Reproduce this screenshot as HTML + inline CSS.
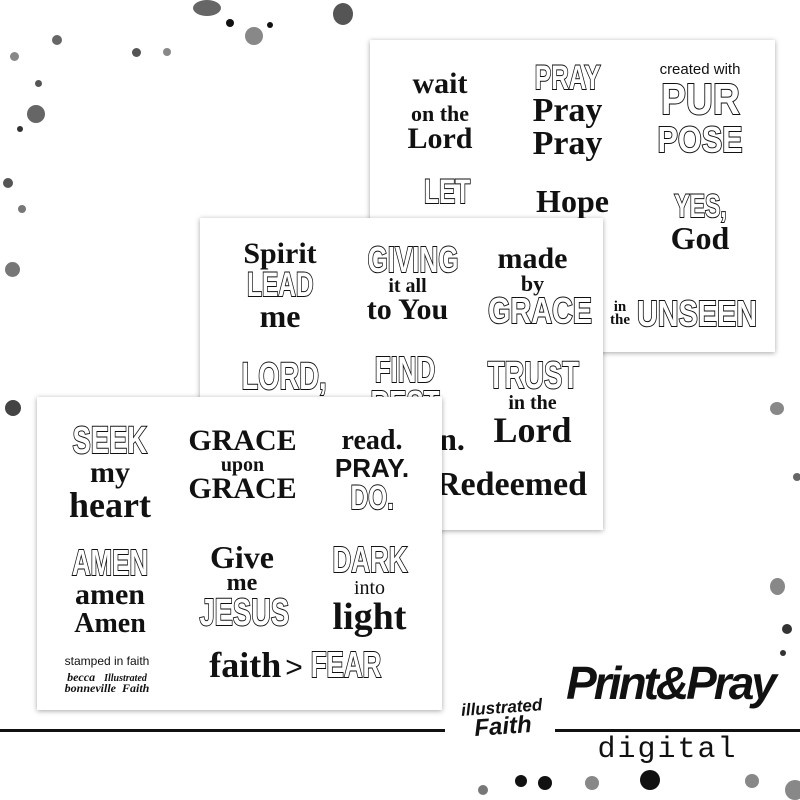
<!DOCTYPE html>
<html><head><meta charset="utf-8"><style>
*{margin:0;padding:0;box-sizing:border-box}
body{width:800px;height:800px;background:#fff;position:relative;overflow:hidden;font-family:"Liberation Serif",serif;color:#111}
.card{position:absolute;background:#fff;box-shadow:0 1px 5px rgba(0,0,0,.35);overflow:hidden}
.t{position:absolute;text-align:center;line-height:1;white-space:nowrap}
.s{font-family:"Liberation Serif",serif;font-weight:bold}
.o{font-family:"Liberation Sans",sans-serif;color:#fff;-webkit-text-stroke:2px #111;paint-order:stroke fill;font-weight:bold;display:inline-block;transform:scaleX(.72)}
.b{font-family:"Liberation Sans",sans-serif;font-weight:bold}
.d{position:absolute;border-radius:50%;background:#555}
</style></head><body>

<!-- splatters -->
<div class="d" style="left:193px;top:0;width:28px;height:16px;background:#666"></div>
<div class="d" style="left:333px;top:3px;width:20px;height:22px;background:#555"></div>
<div class="d" style="left:245px;top:27px;width:18px;height:18px;background:#888"></div>
<div class="d" style="left:226px;top:19px;width:8px;height:8px;background:#111"></div>
<div class="d" style="left:267px;top:22px;width:6px;height:6px;background:#111"></div>
<div class="d" style="left:27px;top:105px;width:18px;height:18px;background:#666"></div>
<div class="d" style="left:52px;top:35px;width:10px;height:10px;background:#666"></div>
<div class="d" style="left:132px;top:48px;width:9px;height:9px;background:#555"></div>
<div class="d" style="left:163px;top:48px;width:8px;height:8px;background:#888"></div>
<div class="d" style="left:10px;top:52px;width:9px;height:9px;background:#888"></div>
<div class="d" style="left:35px;top:80px;width:7px;height:7px;background:#555"></div>
<div class="d" style="left:3px;top:178px;width:10px;height:10px;background:#555"></div>
<div class="d" style="left:17px;top:126px;width:6px;height:6px;background:#333"></div>
<div class="d" style="left:5px;top:262px;width:15px;height:15px;background:#777"></div>
<div class="d" style="left:5px;top:400px;width:16px;height:16px;background:#444"></div>
<div class="d" style="left:18px;top:205px;width:8px;height:8px;background:#777"></div>
<div class="d" style="left:770px;top:402px;width:14px;height:13px;background:#888"></div>
<div class="d" style="left:793px;top:473px;width:8px;height:8px;background:#666"></div>
<div class="d" style="left:770px;top:578px;width:15px;height:17px;background:#888"></div>
<div class="d" style="left:782px;top:624px;width:10px;height:10px;background:#333"></div>
<div class="d" style="left:780px;top:650px;width:6px;height:6px;background:#333"></div>
<div class="d" style="left:515px;top:775px;width:12px;height:12px;background:#111"></div>
<div class="d" style="left:538px;top:776px;width:14px;height:14px;background:#111"></div>
<div class="d" style="left:585px;top:776px;width:14px;height:14px;background:#888"></div>
<div class="d" style="left:640px;top:770px;width:20px;height:20px;background:#111"></div>
<div class="d" style="left:745px;top:774px;width:14px;height:14px;background:#888"></div>
<div class="d" style="left:785px;top:780px;width:20px;height:20px;background:#888"></div>
<div class="d" style="left:478px;top:785px;width:10px;height:10px;background:#777"></div>

<!-- card 3 -->
<div class="card" style="left:370px;top:40px;width:405px;height:312px">
 <div class="t s" style="left:20px;top:30px;width:100px;font-size:30px;line-height:.92">wait<br><span style="font-size:22px">on the</span><br>Lord</div>
 <div class="t" style="left:140px;top:22px;width:115px;font-size:34px;line-height:.95"><span class="o">PRAY</span><br><span class="s">Pray<br>Pray</span></div>
 <div class="t" style="left:265px;top:22px;width:130px;line-height:1"><span class="b" style="font-size:15px;font-weight:normal">created with</span><br><span class="o" style="font-size:44px;transform:scaleX(.85)">PUR</span><br><span class="o" style="font-size:36px;transform:scaleX(.85)">POSE</span></div>
 <div class="t" style="left:45px;top:135px;width:60px;font-size:34px"><span class="o">LET</span></div>
 <div class="t s" style="left:150px;top:145px;width:105px;font-size:32px">Hope</div>
 <div class="t" style="left:275px;top:150px;width:110px;font-size:32px;line-height:1"><span class="o">YES,</span><br><span class="s">God</span></div>
 <div class="t" style="left:240px;top:256px;width:140px"><span class="s" style="font-size:15px;display:inline-block;line-height:.9;vertical-align:middle">in<br>the</span><span class="o" style="font-size:36px;vertical-align:middle;transform:scaleX(.8);margin-left:-8px">UNSEEN</span></div>
</div>

<!-- card 2 -->
<div class="card" style="left:200px;top:218px;width:403px;height:312px">
 <div class="t" style="left:25px;top:22px;width:110px;line-height:.95"><span class="s" style="font-size:30px">Spirit</span><br><span class="o" style="font-size:34px">LEAD</span><br><span class="s" style="font-size:32px">me</span></div>
 <div class="t" style="left:150px;top:25px;width:115px;line-height:.95"><span class="o" style="font-size:36px">GIVING</span><br><span class="s" style="font-size:20px">it all</span><br><span class="s" style="font-size:30px">to You</span></div>
 <div class="t" style="left:275px;top:27px;width:115px;line-height:.95"><span class="s" style="font-size:30px">made</span><br><span class="s" style="font-size:22px">by</span><br><span class="o" style="font-size:36px;transform:scaleX(.8)">GRACE</span></div>
 <div class="t" style="left:25px;top:140px;width:100px;font-size:38px"><span class="o">LORD,</span></div>
 <div class="t" style="left:155px;top:135px;width:100px;font-size:36px;line-height:.95"><span class="o">FIND<br>REST</span></div>
 <div class="t" style="left:270px;top:140px;width:125px;line-height:.95"><span class="o" style="font-size:38px">TRUST</span><br><span class="s" style="font-size:20px">in the</span><br><span class="s" style="font-size:36px">Lord</span></div>
 <div class="t s" style="left:232px;top:205px;width:40px;font-size:32px">n.</div>
 <div class="t s" style="left:236px;top:250px;width:160px;font-size:34px;text-align:left">Redeemed</div>
</div>

<!-- card 1 -->
<div class="card" style="left:37px;top:397px;width:405px;height:313px">
 <div class="t" style="left:18px;top:26px;width:110px;line-height:.95"><span class="o" style="font-size:38px">SEEK</span><br><span class="s" style="font-size:30px">my</span><br><span class="s" style="font-size:36px">heart</span></div>
 <div class="t" style="left:138px;top:30px;width:135px;line-height:.95"><span class="s" style="font-size:30px">GRACE</span><br><span class="s" style="font-size:20px">upon</span><br><span class="s" style="font-size:30px">GRACE</span></div>
 <div class="t" style="left:285px;top:30px;width:100px;line-height:1"><span class="s" style="font-size:28px">read.</span><br><span class="b" style="font-size:26px">PRAY.</span><br><span class="o" style="font-size:34px">DO.</span></div>
 <div class="t" style="left:18px;top:148px;width:110px;line-height:.98"><span class="o" style="font-size:36px">AMEN</span><br><span class="s" style="font-size:30px">amen</span><br><span class="s" style="font-size:28px">Amen</span></div>
 <div class="t" style="left:145px;top:145px;width:120px;line-height:.95"><span class="s" style="font-size:32px">Give</span><br><span class="s" style="font-size:24px">me</span><br><span class="o" style="font-size:38px">JESUS</span></div>
 <div class="t" style="left:280px;top:145px;width:105px;line-height:1"><span class="o" style="font-size:36px">DARK</span><br><span class="s" style="font-size:20px;font-weight:normal">into</span><br><span class="s" style="font-size:38px">light</span></div>
 <div class="t" style="left:20px;top:258px;width:100px;font-size:12px;font-family:'Liberation Sans',sans-serif">stamped in faith</div>
 <div class="t" style="left:20px;top:275px;width:100px;font-size:12px;font-style:italic;font-weight:bold;line-height:.9">becca &nbsp; <span style="font-size:10px">Illustrated</span><br>bonneville &nbsp;Faith</div>
 <div class="t" style="left:160px;top:250px;width:210px"><span class="s" style="font-size:36px">faith</span> <span class="b" style="font-size:30px;font-weight:normal">&gt;</span> <span class="o" style="font-size:36px;margin-left:-10px">FEAR</span></div>
</div>

<!-- bottom -->
<div style="position:absolute;left:0;top:729px;width:445px;height:3px;background:#111"></div>
<div style="position:absolute;left:555px;top:729px;width:245px;height:3px;background:#111"></div>
<div class="t" style="left:455px;top:700px;width:95px;font-family:'Liberation Sans',sans-serif;font-weight:bold;font-style:italic;font-size:17px;line-height:.95;transform:rotate(-4deg)">illustrated<br><span style="font-size:24px">Faith</span></div>
<div class="t" style="left:565px;top:660px;width:210px;font-family:'Liberation Sans',sans-serif;font-weight:bold;font-style:italic;font-size:46px;letter-spacing:-3px">Print&amp;Pray</div>
<div class="t" style="left:585px;top:735px;width:165px;font-family:'Liberation Mono',monospace;font-size:30px;letter-spacing:2px">digital</div>
</body></html>
